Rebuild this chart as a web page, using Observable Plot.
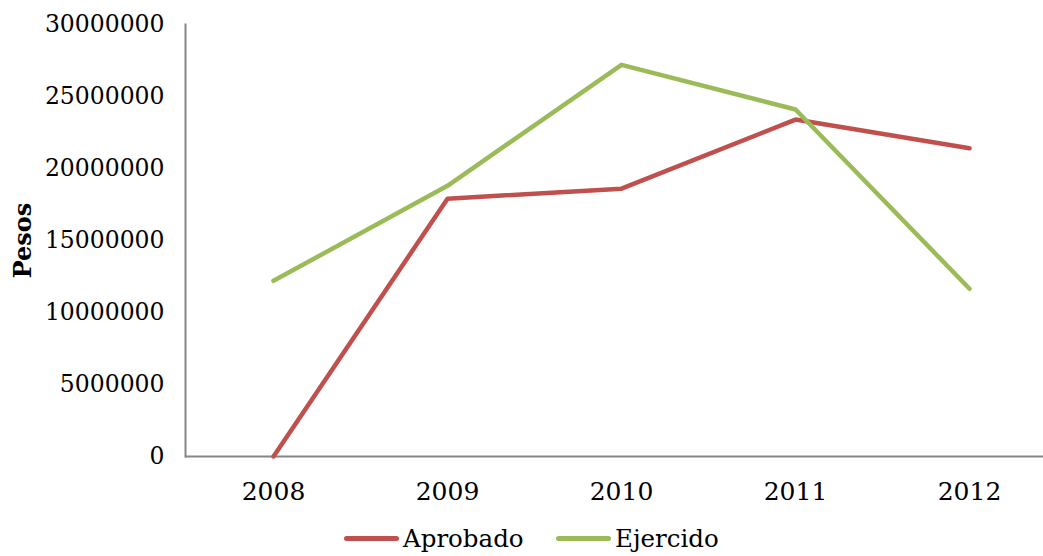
<!DOCTYPE html>
<html>
<head>
<meta charset="utf-8">
<script src="https://cdn.jsdelivr.net/npm/d3@7"></script>
<script src="https://cdn.jsdelivr.net/npm/@observablehq/plot@0.6"></script>
<style>
  body { margin: 0; background: #fff; font-family: "DejaVu Serif", serif; }
  #chart svg { display: block; }
  .legend { position: relative; height: 36px; width: 1043px; font-family: "DejaVu Serif", serif; font-size: 24.5px; color: #000; }
  .legend .item { position: absolute; top: 0; display: flex; align-items: center; height: 36px; }
  .legend .sw { width: 55px; height: 5px; border-radius: 3px; margin-right: 4px; }
</style>
</head>
<body>
<div id="chart"></div>
<div class="legend">
  <div class="item" style="left:344px"><span class="sw" style="background:#C0504D"></span><span>Aprobado</span></div>
  <div class="item" style="left:556px"><span class="sw" style="background:#9BBB59"></span><span>Ejercido</span></div>
</div>
<script>
const years = ["2008", "2009", "2010", "2011", "2012"];
const aprobado = [0, 17900000, 18600000, 23400000, 21400000];
const ejercido = [12200000, 18800000, 27200000, 24100000, 11650000];
const yTicks = [0, 5000000, 10000000, 15000000, 20000000, 25000000, 30000000];
const seriesNames = ["Aprobado", "Ejercido"];
const colors = ["#C0504D", "#9BBB59"];

const rows = [];
years.forEach((yr, i) => {
  rows.push({year: yr, value: aprobado[i], series: seriesNames[0]});
  rows.push({year: yr, value: ejercido[i], series: seriesNames[1]});
});

const chart = Plot.plot({
  width: 1043,
  height: 520,
  marginLeft: 185,
  marginRight: 0,
  marginTop: 24,
  marginBottom: 64,
  style: {fontFamily: "DejaVu Serif, serif", fontSize: "23px", color: "#000", background: "#fff"},
  x: {type: "point", domain: years, range: [185, 1057], padding: 0.5},
  y: {domain: [0, 30000000]},
  color: {domain: seriesNames, range: colors},
  marks: [
    Plot.frame({anchor: "left", stroke: "#868686", strokeWidth: 2}),
    Plot.ruleY([0], {stroke: "#868686", strokeWidth: 2}),
    Plot.axisY({ticks: yTicks, tickSize: 0, tickPadding: 21, tickFormat: d => String(d), label: null, fontSize: 23.5}),
    Plot.axisX({tickSize: 0, tickPadding: 26, label: null, fontSize: 25}),
    Plot.line(rows, {x: "year", y: "value", z: "series", stroke: "series", strokeWidth: 4.5, strokeLinecap: "round", strokeLinejoin: "round"}),
    Plot.text(["Pesos"], {frameAnchor: "left", dx: -162, rotate: -90, fontWeight: "bold", fontSize: 24, textAnchor: "middle", lineAnchor: "middle"})
  ]
});
document.getElementById("chart").appendChild(chart);
</script>
</body>
</html>
